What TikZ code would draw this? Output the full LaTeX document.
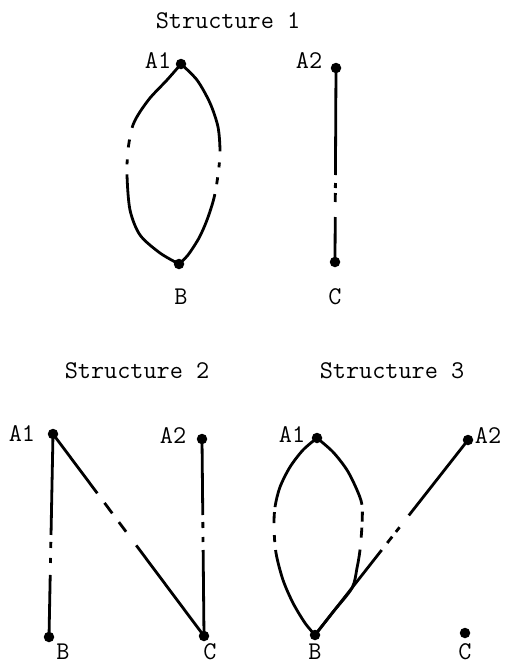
\documentclass[tikz,border=0pt]{standalone}
\usepackage{fontspec}
\begin{document}
\begin{tikzpicture}[x=1pt,y=-1pt,
  dot/.style={circle,fill=black,inner sep=0pt,minimum size=10.5pt},
  lbl/.style={font=\ttfamily\fontsize{25.5}{29}\selectfont,inner sep=0pt},
  edge/.style={line width=2.8pt}]
\useasboundingbox (0,0) rectangle (505,664);
% ---------- Structure 1
\node[lbl] (t1) at (228,21) {Structure 1};
\node[dot] (s1a1) at (181,64) {};
\node[dot] (s1a2) at (336,68) {};
\node[dot] (s1b) at (179,264) {};
\node[dot] (s1c) at (335,262) {};
\node[lbl] (s1a1l) at (158,61) {A1};
\node[lbl] (s1a2l) at (309,61) {A2};
\node[lbl] (s1bl) at (181,297) {B};
\node[lbl] (s1cl) at (335,297) {C};
\draw[edge,dash pattern=on 81pt off 12pt on 8pt off 12pt on 5pt off 10pt on 400pt]
  plot[smooth] coordinates {(s1a1.center) (167,80) (150,98) (138,115) (132,128) (128,150) (127,175) (130,210) (140,235) (160,253) (s1b.center)};
\draw[edge,dash pattern=on 99pt off 11pt on 5pt off 10pt on 7pt off 10pt on 400pt]
  plot[smooth] coordinates {(s1a1.center) (197,80) (210,103) (218,127) (220,152) (218,175) (214,198) (207,220) (199,238) (188,255) (s1b.center)};
\draw[edge,dash pattern=on 107pt off 8pt on 5pt off 5pt on 9pt off 15pt on 400pt]
  (s1a2.center) -- (s1c.center);
% ---------- Structure 2
\node[lbl] (t2) at (137,371) {Structure 2};
\node[dot] (s2a1) at (53,434) {};
\node[dot] (s2a2) at (202,439) {};
\node[dot] (s2b) at (49,637) {};
\node[dot] (s2c) at (204,636) {};
\node[lbl] (s2a1l) at (22,434) {A1};
\node[lbl] (s2a2l) at (173,436) {A2};
\node[lbl] (s2bl) at (63,652) {B};
\node[lbl] (s2cl) at (210,652) {C};
\draw[edge,dash pattern=on 101pt off 7pt on 6pt off 10pt on 5pt off 12pt on 400pt]
  (s2a1.center) -- (s2b.center);
\draw[edge,dash pattern=on 74pt off 12pt on 13pt off 11pt on 12pt off 17pt on 400pt]
  (s2a1.center) -- (s2c.center);
\draw[edge,dash pattern=on 76pt off 7pt on 6pt off 9pt on 5pt off 8pt on 400pt]
  (s2a2.center) -- (s2c.center);
% ---------- Structure 3
\node[lbl] (t3) at (392,371) {Structure 3};
\node[dot] (s3a1) at (317,438) {};
\node[dot] (s3a2) at (468,440) {};
\node[dot] (s3b) at (315,635) {};
\node[dot] (s3c) at (465,633) {};
\node[lbl] (s3a1l) at (292,435) {A1};
\node[lbl] (s3a2l) at (488,436) {A2};
\node[lbl] (s3bl) at (315,652) {B};
\node[lbl] (s3cl) at (465,652) {C};
\draw[edge,dash pattern=on 83pt off 5pt on 11pt off 12pt on 7pt off 8pt on 400pt]
  plot[smooth] coordinates {(s3a1.center) (303,450) (290,467) (280,487) (275,507) (274,527) (276,553) (283,580) (293,603) (305,623) (s3b.center)};
\draw[edge,dash pattern=on 82pt off 7pt on 10pt off 6pt on 10pt off 12pt on 400pt]
  plot[smooth] coordinates {(s3a1.center) (333,452) (347,470) (357,490) (362,505) (362,525) (360,550) (357,568) (352,588) (333,612) (s3b.center)};
\draw[edge,dash pattern=on 108pt off 9pt on 8pt off 6pt on 6pt off 15pt on 400pt]
  (s3b.center) -- (s3a2.center);
\end{tikzpicture}
\end{document}
